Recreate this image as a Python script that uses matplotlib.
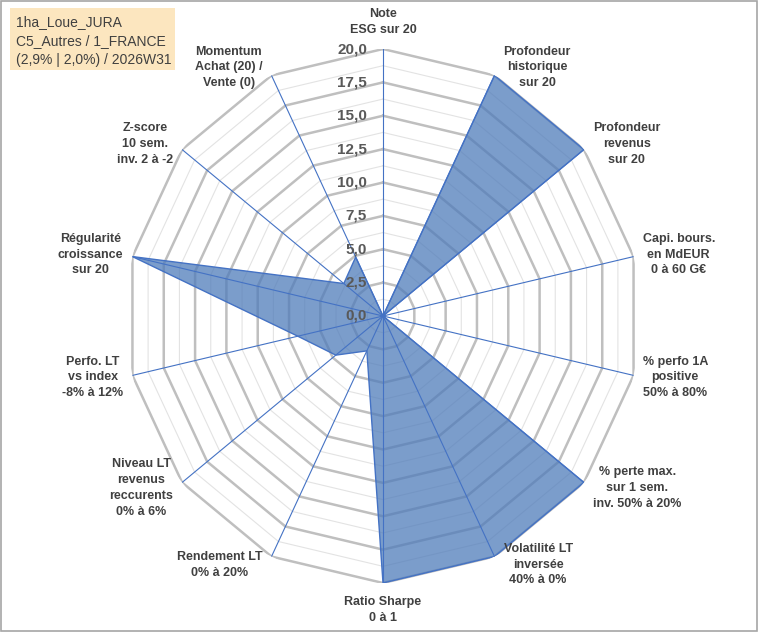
import numpy as np
import matplotlib
matplotlib.use("Agg")
import matplotlib.pyplot as plt
from matplotlib.patches import Rectangle
from matplotlib.transforms import offset_copy

# ---------------- data ----------------
categories = [
    "Note\nESG sur 20",
    "Profondeur\nhistorique\nsur 20",
    "Profondeur\nrevenus\nsur 20",
    "Capi. bours.\nen MdEUR\n0 à 60 G€",
    "% perfo 1A\npositive\n50% à 80%",
    "% perte max.\nsur 1 sem.\ninv. 50% à 20%",
    "Volatilité LT\ninversée\n40% à 0%",
    "Ratio Sharpe\n0 à 1",
    "Rendement LT\n0% à 20%",
    "Niveau LT\nrevenus\nreccurents\n0% à 6%",
    "Perfo. LT\nvs index\n-8% à 12%",
    "Régularité\ncroissance\nsur 20",
    "Z-score\n10 sem.\ninv. 2 à -2",
    "Momentum\nAchat (20) /\nVente (0)",
]
values = [0, 20, 20, 0, 0, 20, 20, 20, 2.9, 4.7, 6.8, 20, 3.9, 4.9]
rticks = [0, 2.5, 5, 7.5, 10, 12.5, 15, 17.5, 20]
rminor = [1.25, 3.75, 6.25, 8.75, 11.25, 13.75, 16.25, 18.75]
tick_labels = ["0,0", "2,5", "5,0", "7,5", "10,0", "12,5", "15,0", "17,5", "20,0"]
title_lines = ["1ha_Loue_JURA", "C5_Autres / 1_FRANCE", "(2,9% | 2,0%) / 2026W31"]

# ---------------- figure ----------------
W, H = 760, 633
fig = plt.figure(figsize=(W / 100, H / 100), dpi=100)
fig.patch.set_facecolor("white")

cx, cy, rx, ry = 383, 316, 257, 267
ax = fig.add_axes([(cx - rx) / W, (H - cy - ry) / H, 2 * rx / W, 2 * ry / H],
                  projection="polar")
ax.set_aspect("auto")
ax.set_theta_offset(np.pi / 2)
ax.set_theta_direction(-1)
rmax = rticks[-1]
ax.set_ylim(0, rmax)
ax.grid(False)
ax.set_xticks([])
ax.set_yticks([])
ax.spines["polar"].set_visible(False)
ax.patch.set_alpha(0)

n = len(categories)
theta = np.linspace(0, 2 * np.pi, n, endpoint=False)
theta_c = np.append(theta, theta[0])

# grid polygons
for r in rminor:
    ax.plot(theta_c, [r] * (n + 1), color="#E3E3E3", lw=0.8, zorder=1)
for r in rticks[1:]:
    ax.plot(theta_c, [r] * (n + 1), color="#BFBFBF", lw=1.8, zorder=1.5)

# spokes
for t in theta:
    ax.plot([t, t], [0, rmax], color="#4472C4", lw=0.8, zorder=3)

# data polygon
vals_c = values + values[:1]
ax.fill(theta_c, vals_c, facecolor="#4F7CBA", alpha=0.75, zorder=2)
ax.plot(theta_c, vals_c, color="#4472C4", lw=1.0, zorder=2.5)

# radial tick labels
tr = offset_copy(ax.transData, fig=fig, x=-16, y=0, units="dots")
for r, lab in zip(rticks, tick_labels):
    ax.text(0, r, lab, transform=tr, ha="right", va="center",
            fontsize=11, fontweight="bold", color="#595959",
            family="Liberation Sans", zorder=5)

# category labels, anchored next to the outer vertex
for t, lab in zip(theta, categories):
    s, c = np.sin(t), np.cos(t)
    if abs(s) < 0.2:
        ha = "center"
        va = "bottom" if c > 0 else "top"
        dx, dy = 0, 13 * np.sign(c)
    else:
        ha = "left" if s > 0 else "right"
        va = "center"
        dx, dy = 9 * np.sign(s), 9 * c
    trl = offset_copy(ax.transData, fig=fig, x=dx, y=dy, units="dots")
    ax.text(t, rmax, lab, transform=trl, ha=ha, va=va, multialignment="center",
            fontsize=9, fontweight="bold", color="#404040",
            family="Liberation Sans", linespacing=1.42, zorder=5)

# title box
fig.patches.append(Rectangle((10 / W, 1 - 70 / H), 165 / W, 62 / H,
                             transform=fig.transFigure, facecolor="#FCE6BF",
                             edgecolor="none", zorder=0))
for i, line in enumerate(title_lines):
    fig.text(16 / W, 1 - (22 + 19 * i) / H, line, ha="left", va="center",
             fontsize=10, color="#404040", family="Liberation Sans")

# outer frame
fig.patches.append(Rectangle((1 / W, 2 / H), 756 / W, 630 / H,
                             transform=fig.transFigure, facecolor="none",
                             edgecolor="#A6A6A6", lw=1.2))

fig.savefig("out.png", dpi=100)
